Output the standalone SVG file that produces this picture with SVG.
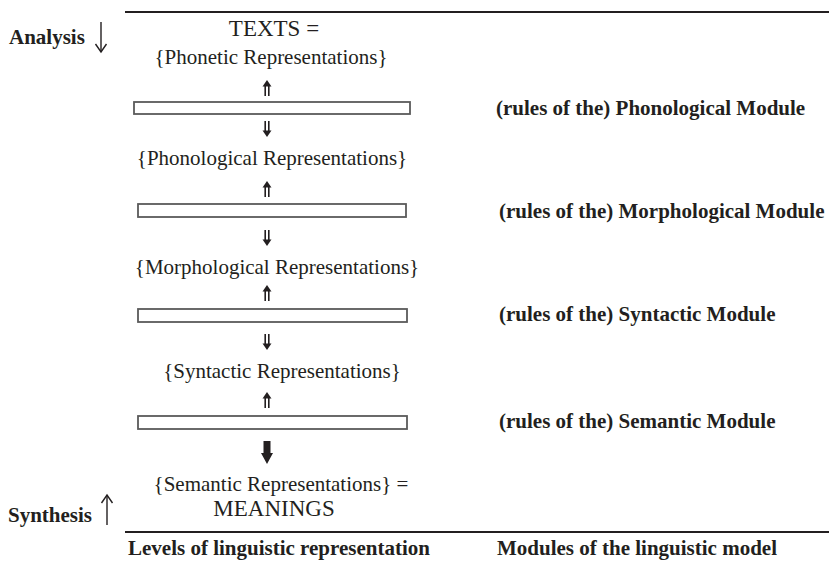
<svg xmlns="http://www.w3.org/2000/svg" width="829" height="561" viewBox="0 0 829 561">
  <style>
    .lvl { font-family: "Liberation Serif", "Times New Roman", serif; font-size: 21px; fill: #231f20; text-anchor: middle; }
    .big { font-family: "Liberation Serif", "Times New Roman", serif; font-size: 23px; fill: #231f20; text-anchor: middle; }
    .mod { font-family: "Liberation Serif", "Times New Roman", serif; font-size: 21px; font-weight: bold; fill: #231f20; }
    .box { fill: #fff; stroke: #5a5a5a; stroke-width: 1.8; }
    .rule { stroke: #231f20; stroke-width: 2; }
    .shaft { stroke: #231f20; stroke-width: 1.6; fill: none; }
    .head { fill: #231f20; }
    .thin { stroke: #231f20; stroke-width: 1.4; fill: none; }
  </style>
  <defs>
    <!-- double-shaft arrow pointing up, origin at tip -->
    <g id="dblUp">
      <path class="head" d="M0 0 L-4.5 6.5 L4.5 6.5 Z"/>
      <line class="shaft" x1="-1.8" y1="5" x2="-1.8" y2="16"/>
      <line class="shaft" x1="1.8" y1="5" x2="1.8" y2="16"/>
    </g>
    <!-- double-shaft arrow pointing down, origin at tip -->
    <g id="dblDown">
      <path class="head" d="M0 0 L-4.5 -6.5 L4.5 -6.5 Z"/>
      <line class="shaft" x1="-1.8" y1="-5" x2="-1.8" y2="-16"/>
      <line class="shaft" x1="1.8" y1="-5" x2="1.8" y2="-16"/>
    </g>
  </defs>

  <!-- frame rules -->
  <line class="rule" x1="125" y1="12" x2="829" y2="12"/>
  <line class="rule" x1="125" y1="532" x2="829" y2="532"/>

  <!-- direction labels -->
  <g id="analysis">
    <text class="mod" x="9" y="44">Analysis</text>
    <line class="thin" x1="101" y1="22" x2="101" y2="52"/>
    <path class="thin" d="M95.5 44 L101 52 L106.5 44"/>
  </g>
  <g id="synthesis">
    <text class="mod" x="8" y="522">Synthesis</text>
    <line class="thin" x1="107" y1="495" x2="107" y2="525"/>
    <path class="thin" d="M101.5 503 L107 495 L112.5 503"/>
  </g>

  <!-- levels of representation -->
  <g id="phonetic">
    <text class="big" x="274" y="36">TEXTS =</text>
    <text class="lvl" x="271" y="64">{Phonetic Representations}</text>
  </g>
  <g id="phonological">
    <text class="lvl" x="272" y="165">{Phonological Representations}</text>
  </g>
  <g id="morphological">
    <text class="lvl" x="277" y="274">{Morphological Representations}</text>
  </g>
  <g id="syntactic">
    <text class="lvl" x="282" y="378">{Syntactic Representations}</text>
  </g>
  <g id="semantic">
    <text class="lvl" x="281" y="491">{Semantic Representations} =</text>
    <text class="big" x="274" y="516">MEANINGS</text>
  </g>

  <!-- modules -->
  <g id="phonologicalModule">
    <rect class="box" x="134" y="102" width="276" height="12"/>
    <text class="mod" x="496" y="115">(rules of the) Phonological Module</text>
  </g>
  <g id="morphologicalModule">
    <rect class="box" x="138" y="204" width="268" height="13"/>
    <text class="mod" x="499" y="218">(rules of the) Morphological Module</text>
  </g>
  <g id="syntacticModule">
    <rect class="box" x="138" y="309" width="269" height="13"/>
    <text class="mod" x="499" y="321">(rules of the) Syntactic Module</text>
  </g>
  <g id="semanticModule">
    <rect class="box" x="138" y="416" width="269" height="13"/>
    <text class="mod" x="499" y="428">(rules of the) Semantic Module</text>
  </g>

  <!-- connectors -->
  <g id="connectors">
    <use href="#dblUp" x="267" y="80"/>
    <use href="#dblDown" x="267" y="137"/>
    <use href="#dblUp" x="267" y="181"/>
    <use href="#dblDown" x="267" y="246"/>
    <use href="#dblUp" x="267" y="285"/>
    <use href="#dblDown" x="267" y="350"/>
    <use href="#dblUp" x="267" y="392"/>
    <!-- heavy arrow into the semantic level -->
    <path class="head" d="M267 464 L261 453 L263.5 453 L263.5 441 L270.5 441 L270.5 453 L273 453 Z"/>
  </g>

  <!-- column captions -->
  <text class="mod" x="128" y="555">Levels of linguistic representation</text>
  <text class="mod" x="497" y="555">Modules of the linguistic model</text>
</svg>
